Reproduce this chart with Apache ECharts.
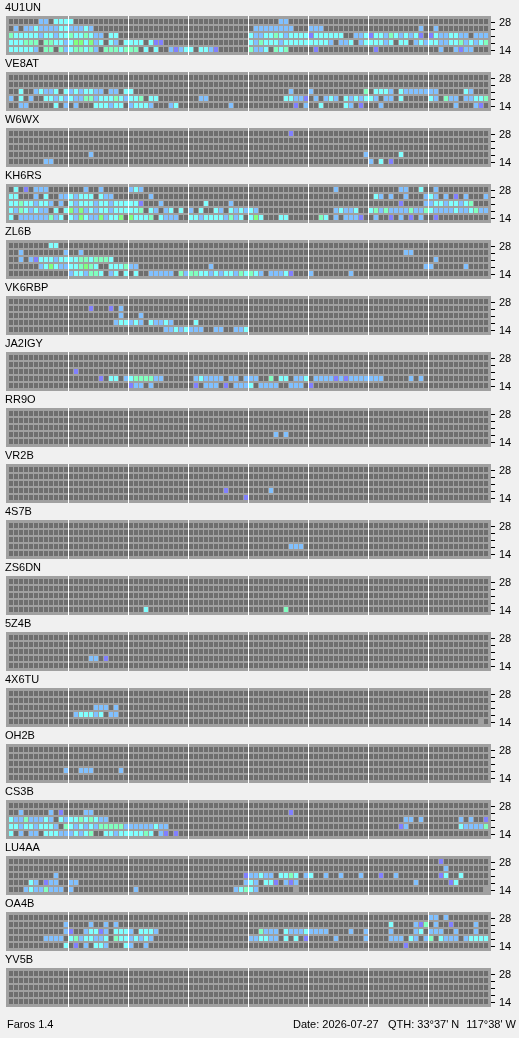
<!DOCTYPE html>
<html><head><meta charset="utf-8">
<script src="https://cdn.jsdelivr.net/npm/echarts@6/dist/echarts.min.js"></script>
<style>html,body{margin:0;padding:0;background:#f0f0f0;}#c{width:519px;height:1038px;}</style>
</head><body><div id="c"></div>
<script>
// Station beacons, top to bottom
const stations = ['4U1UN','VE8AT','W6WX','KH6RS','ZL6B','VK6RBP','JA2IGY','RR9O','VR2B','4S7B','ZS6DN','5Z4B','4X6TU','OH2B','CS3B','LU4AA','OA4B','YV5B'];
// Band tick labels, bottom (14 MHz) to top (28 MHz)
const bandLabels = ['14','18','21','24','28'];
// 96 quarter-hour slots per day
const slots = Array.from({length: 96}, (_, i) => i);
// Each station: 5 rows, top (28) to bottom (14); 8 groups of 12 slots.
// '.' no signal, b/c/g/G/p signal classes, x unknown
const sA = [
 "......bb.ccc c........... ............ ............ ......bb....",
 ".b.bbcbbbbcc bbbcb....... ............ ............ .bbbbbbbb... bbb......... ..........b. .b..........",
 "gcccccbccbcc gccgcbb.cc.. ............ ............ cbbccgcbcccc pcccccc..bbc pccbgcbcbcp. pcbbccbb.bbb",
 "cccggg.ggccb cGGcGbc.cb.c ccc.cpp..... ............ cbgcccbccccc ccccb.bbc.bc cccbc.cc.bcb ccbbccgbcbcg",
 "cccccb.gg.gb cggcgb.gggcg gg.c.c..bpbc c.ccbp...... gbbc.gcg.... .p.......... .p.......... ..b..bpbb..."
];
const sVE8AT = [
 "",
 "",
 "..c..bcbbc.c bcbccbb.bb.c c........... ............ ........b... b..........g .cccb.cbbbbb bb.....cb...",
 "b.c.b..ccbcb cbbggbcccgcb ccg.cc...... ..bb........ .......ccbbp .b.bcb.cbcbc cb.bb.c..... cb.gbb.bbccg",
 "..bb.....c.b .b...cccbcc. bcccb...bc.. ........b... .........p.b ..c....cb.p. ..b......... .....b...bp."
];
const sW6WX = [
 "............ ............ ............ ............ ........p...",
 "",
 "",
 "............ ....b....... ............ ............ ............ ...........b ......c.....",
 ".......bb... ............ ............ ............ ............ ............ b.c.p......."
];
const sKH6RS = [
 ".c.p.bbb.... ...b..b..... bcb......... ............ ............ .....b...... ......bb..c. .b..........",
 "cc...b.c..bb cbccc.cbb... ....b....... ............ ............ ............ .cb.b..b...b cb.b.p.b...b",
 "ccgccbccb.b. cbcccbccbccc ccp...b..... ...c....b... ............ ............ ......p....b bccbccbcg...",
 "cbgcbcbb.c.c GbGbcbccbccc ccg.cb.bc.c. b.c..cb.cbcb cb.......... .....bcbbc.. cgbgbbbbgbbg cbbbbcbbcgbb",
 "c.bbbbbbgbc. cbGcbbGbccG. Gcccg.cbbb.. ccbccccbgbc. cGc...cc.... ..gc.b.bbbp. .b..p.b.p.b. .p.........."
];
const sZL6B = [
 "........cc..",
 "..b........b ..b......... ............ ............ ............ ............ .......bb...",
 "..b.bpcccbcc ccggcgggc... ............ ............ ............ ............ ............ .b..........",
 "......bcGcbb ccgGgc..cccg bb.......... ....b....... ............ ............ ...........b b......b....",
 "............ bccbggc.bc.c .c..bbbbb.gb ggccbcbccbgc gcb.bbbcp... b.......b..."
];
const sVK6RBP = [
 "",
 "............ ....p...p.b.",
 "............ ..........b. ..b.........",
 "............ .........bcc bcb.cbbcb... .c..........",
 "............ ............ .......bbcbc bbb..bb..bbc"
];
const sJA2IGY = [
 "",
 "",
 "............ .p..........",
 "............ ......p.cc.b cggggbb..... .bcbbbb.bb.b bb..g.cc.bbc .bbbbpbpbbbb bbb.....b.b.",
 "............ ............ pbb.b....... .p.bbb.p.bbb c.bbbb..bbb. p..........."
];
const sRR9O = ["", "", "", "............ ............ ............ ............ .....b.b....", ""];
const sVR2B = ["", "", "", "............ ............ ............ .......p.... ....b.......", "............ ............ ............ ...........p"];
const s4S7B = ["", "", "", "............ ............ ............ ............ ........bbb.", ""];
const sZS6DN = ["", "", "", "", "............ ............ ...c........ ............ .......g...."];
const s5Z4B = ["", "", "", "............ ....bb.p....", ""];
const s4X6TU = ["", "", "............ .....bbb.b..", "............ .bcccbc.bb..", "............ ............ ............ ............ ............ ............ ............ ..........x."];
const sOH2B = ["", "", "", "...........b ..bbb.....b.", ""];
const sCS3B = [
 "",
 "..b.....b.p. ...bb....... ............ ............ ........p...",
 "cbbgbbbcb.cb ccgcgcbb.... ............ ............ ............ ............ .......bb.b. ......b.b..p",
 "ccbccbcccb.g cbcbcbgggggb bbbbbcbb.... ............ ............ ............ ......pb.... ......cbbbbg",
 "c.b.bb.cccbb bcbcg..ccbcc cccgc.bp.p.."
];
const sLU4AA = [
 "............ ............ ............ ............ ............ ............ ............ ..p.........",
 "............ ............ ............ ............ ............ ............ ............ ...b........",
 ".........b.. ............ ............ ...........p bbcbb.ccgc.b c..b..b...b. ..p..b...... ..pc..c.....",
 "....cb.pbb.. bb.......... ............ ...........b cb.ccp.bpb.. ............ .........b.. ....pc......",
 "...bcbbgbbb. b........... .b.......... .........bcg cb.......x.. ............ ............ ...........x"
];
const sOA4B = [
 "............ ............ ............ ............ ............ ............ ............ bb.b........",
 "...........b ....b..b.b.. ............ ............ ............ ............ ....c....bpg .b..p....b..",
 "...........b p..bccpb.ccc b.cccb...... ............ ..gbbb.cbbbc bbbb....b..b ....b....bc. bbb..b...b..",
 ".......bbbb. cgbccbbc.gcc bcbcb....... ............ bbccbb.c.c.p .....b.....b ....bbb.cb.b g.cbbb.bcccc",
 "...........c .p.b.ccb...c b..b........ ............ ............ ............ .......p...."
];
const sYV5B = ["", "", "", "", ""];

const stationRows = [sA, sVE8AT, sW6WX, sKH6RS, sZL6B, sVK6RBP, sJA2IGY, sRR9O, sVR2B, s4S7B, sZS6DN, s5Z4B, s4X6TU, sOH2B, sCS3B, sLU4AA, sOA4B, sYV5B];

const codes = '.bcgGpx';
const palette = ['#6e6e6e', '#80c0ff', '#80ffff', '#80ffc0', '#80ff80', '#8080ff', '#a0a0a0'];

function parseRow(str) {
  const groups = str.trim() ? str.trim().split(/\s+/) : [];
  let s = '';
  for (let g = 0; g < 8; g++) {
    let t = (groups[g] || '').slice(0, 12);
    while (t.length < 12) t += '.';
    s += t;
  }
  return s;
}

const FONT = '"Liberation Sans", Arial, sans-serif';
const PITCH = 56;
const grids = [], xAxes = [], yAxes = [], series = [], elements = [];

stations.forEach((name, k) => {
  const top = 19 + PITCH * k;
  grids.push({left: 8, width: 480, top: top, height: 35, containLabel: false});
  xAxes.push({type: 'category', gridIndex: k, data: slots, boundaryGap: true, show: false});
  yAxes.push({
    type: 'category', gridIndex: k, data: bandLabels, position: 'right', offset: 3,
    axisLine: {show: false},
    axisTick: {show: true, length: 4, alignWithLabel: true, interval: 0, lineStyle: {color: '#000', width: 1}},
    axisLabel: {interval: 0, margin: 8, color: '#000', fontSize: 11, fontFamily: FONT,
      formatter: v => (v === '14' || v === '28') ? v : ''},
    splitLine: {show: false}
  });
  const data = [];
  stationRows[k].forEach((rowStr, r) => {
    const row = parseRow(rowStr);
    const yi = 4 - r;
    for (let i = 0; i < 96; i++) {
      let ci = codes.indexOf(row[i]);
      if (ci < 0) ci = 0;
      data.push([i, yi, ci]);
    }
  });
  series.push({
    type: 'custom', xAxisIndex: k, yAxisIndex: k, z: 5, silent: true, animation: false,
    data: data,
    renderItem: (params, api) => {
      const c = api.coord([api.value(0), api.value(1)]);
      const sz = api.size([1, 1]);
      return {
        type: 'rect',
        shape: {x: c[0] - sz[0] / 2 + 1, y: c[1] - sz[1] / 2, width: sz[0] - 1, height: sz[1] - 2},
        style: {fill: palette[api.value(2)], stroke: null}
      };
    }
  });
  // panel box
  elements.push({type: 'rect', z: 1, silent: true, shape: {x: 6, y: top - 3, width: 485, height: 39}, style: {fill: '#a0a0a0'}});
  // 3-hour separators
  for (let j = 1; j < 8; j++) {
    elements.push({type: 'rect', z: 2, silent: true, shape: {x: 8 + 60 * j, y: top - 3, width: 1, height: 39}, style: {fill: '#ffffff'}});
  }
  elements.push({type: 'text', z: 3, x: 5, y: top - 17, style: {text: name, fill: '#000', font: '11px ' + FONT, verticalAlign: 'top', align: 'left'}});
});

elements.push({type: 'text', x: 7, y: 1019, style: {text: 'Faros 1.4', fill: '#000', font: '11px ' + FONT, verticalAlign: 'top'}});
elements.push({type: 'text', x: 293, y: 1019, style: {text: 'Date: 2026-07-27', fill: '#000', font: '11px ' + FONT, verticalAlign: 'top'}});
elements.push({type: 'text', x: 388, y: 1019, style: {text: "QTH: 33°37' N", fill: '#000', font: '11px ' + FONT, verticalAlign: 'top'}});
elements.push({type: 'text', x: 516, y: 1019, style: {text: "117°38' W", fill: '#000', font: '11px ' + FONT, verticalAlign: 'top', align: 'right'}});

const chart = echarts.init(document.getElementById('c'), null, {renderer: 'canvas'});
chart.setOption({
  backgroundColor: '#f0f0f0',
  animation: false,
  grid: grids, xAxis: xAxes, yAxis: yAxes, series: series,
  graphic: {elements: elements}
});
</script></body></html>
